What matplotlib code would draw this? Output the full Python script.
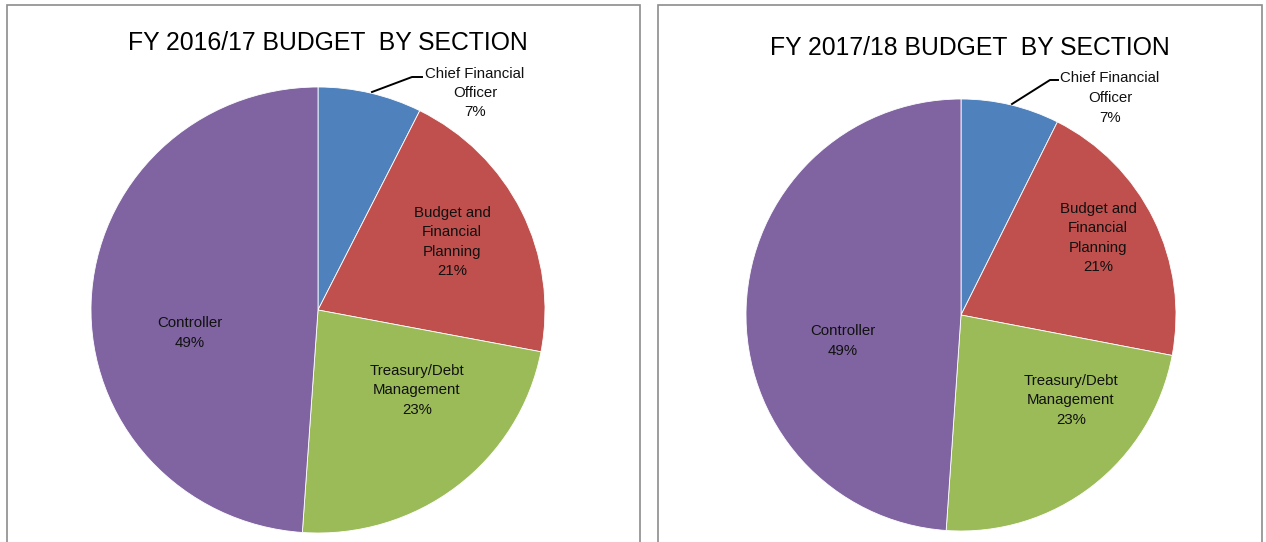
import matplotlib.pyplot as plt
from matplotlib.patches import Rectangle
from matplotlib.lines import Line2D

# data
sections = ["Chief Financial\nOfficer", "Budget and\nFinancial\nPlanning",
            "Treasury/Debt\nManagement", "Controller"]
share_1617 = [7.4, 20.6, 23.1, 48.9]
share_1718 = [7.4, 20.6, 23.1, 48.9]
titles = ["FY 2016/17 BUDGET  BY SECTION", "FY 2017/18 BUDGET  BY SECTION"]
colors = ["#4F81BD", "#C0504D", "#9BBB59", "#8064A2"]

W, H = 1266, 542
plt.rcParams['font.family'] = ['Liberation Sans', 'DejaVu Sans']
fig = plt.figure(figsize=(W / 100, H / 100), dpi=100)


def fx(x):
    return x / W


def fy(y):
    return 1 - y / H


# panel borders (bottom runs off the picture)
for x0, x1 in [(7, 640), (658, 1262)]:
    fig.patches.append(Rectangle((fx(x0), fy(560)), fx(x1 - x0), (560 - 5) / H,
                                 transform=fig.transFigure, fill=False,
                                 edgecolor="#8c8c8c", linewidth=1.2))

# pie geometry: centre x, centre y, radius x, radius y (pixels)
pies = [
    dict(vals=share_1617, cx=318, cy=310, rx=227, ry=223, title_xy=(328, 43),
         lab=[(475, 93), (452, 242), (417, 390), (190, 333)],
         leader=[(372, 92), (412, 77), (422, 77)]),
    dict(vals=share_1718, cx=961, cy=315, rx=215, ry=216, title_xy=(970, 48),
         lab=[(1110, 98), (1098, 238), (1071, 400), (843, 341)],
         leader=[(1012, 104), (1050, 80), (1058, 80)]),
]

for p, title in zip(pies, titles):
    ax = fig.add_axes([fx(p["cx"] - p["rx"]), fy(p["cy"] + p["ry"]),
                       2 * p["rx"] / W, 2 * p["ry"] / H])
    ax.pie(p["vals"], colors=colors, startangle=90, counterclock=False,
           radius=1, wedgeprops=dict(linewidth=0.6, edgecolor="white"))
    ax.set_aspect("auto")
    ax.set_xlim(-1, 1)
    ax.set_ylim(-1, 1)
    ax.axis("off")

    fig.text(fx(p["title_xy"][0]), fy(p["title_xy"][1]), title, ha="center",
             va="center", fontsize=17.8, color="#000000")

    for name, v, (lx, ly) in zip(sections, p["vals"], p["lab"]):
        fig.text(fx(lx), fy(ly), f"{name}\n{round(v)}%", ha="center",
                 va="center", fontsize=10.8, linespacing=1.5, color="#111111")

    xs = [fx(a) for a, b in p["leader"]]
    ys = [fy(b) for a, b in p["leader"]]
    fig.lines.append(Line2D(xs, ys, transform=fig.transFigure, color="black",
                            linewidth=1.4))

fig.savefig("out.png", dpi=100)
